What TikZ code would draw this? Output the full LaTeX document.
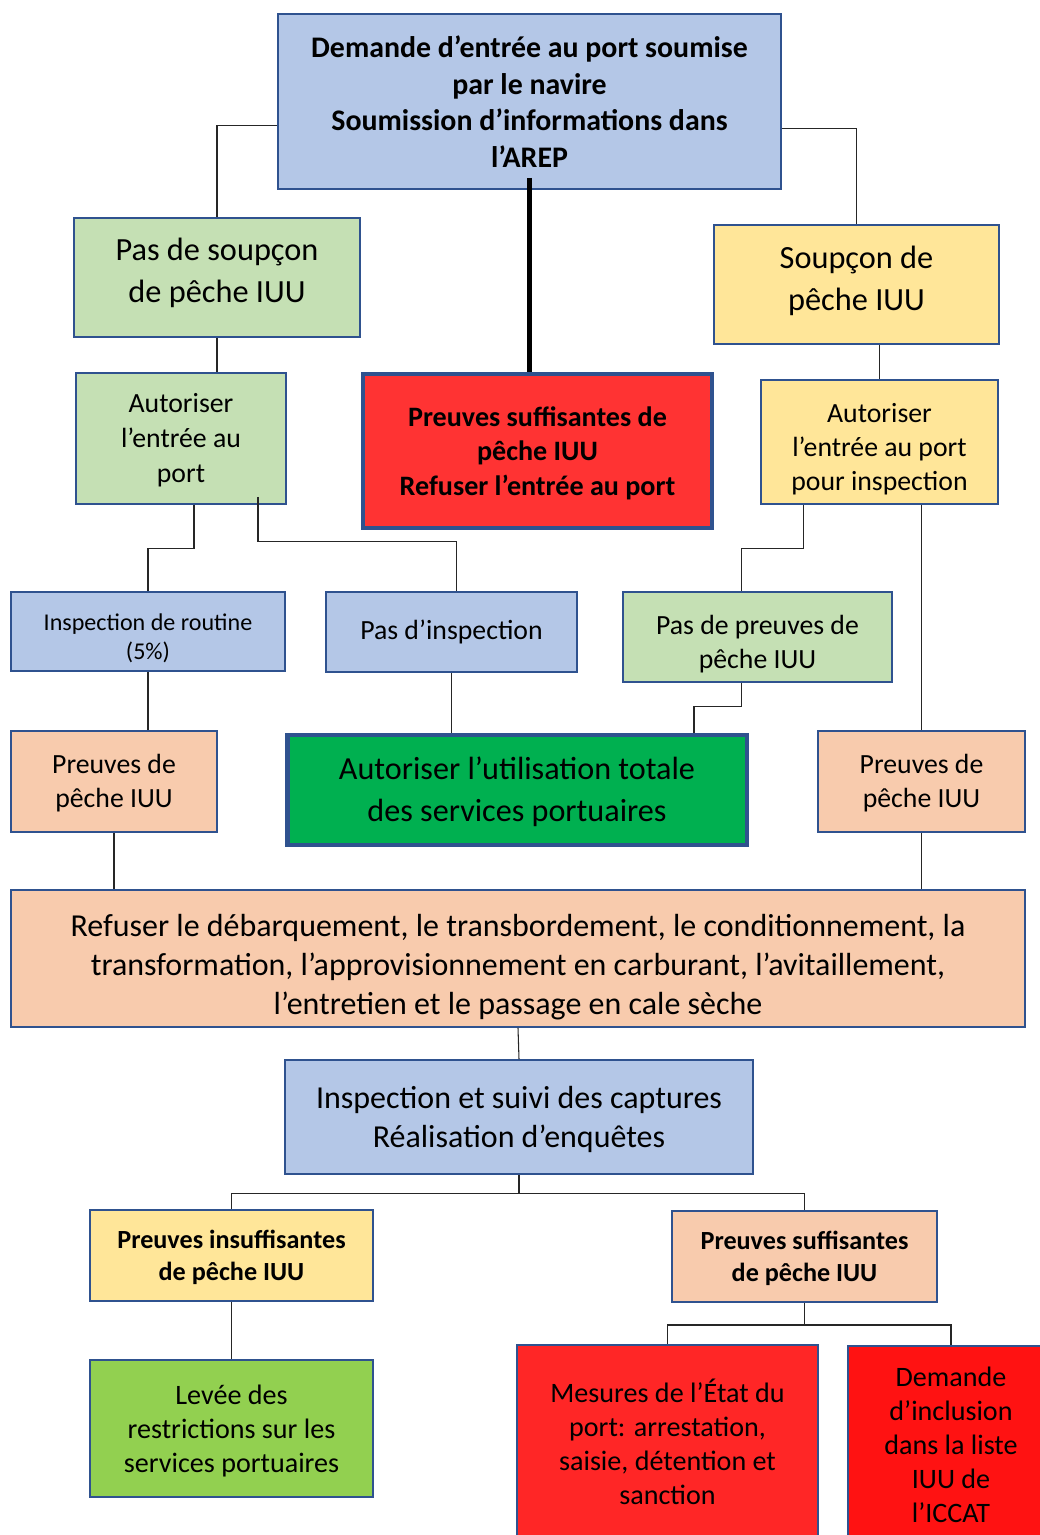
\documentclass[tikz,border=0pt]{standalone}
\usepackage{fontspec}
\setmainfont{Carlito}
\usepackage{tikz}
\usetikzlibrary{calc}

\definecolor{edgeblue}{HTML}{2F528F}
\definecolor{paleblue}{HTML}{B4C7E7}
\definecolor{palegreen}{HTML}{C5E0B4}
\definecolor{paleyellow}{HTML}{FFE699}
\definecolor{peach}{HTML}{F8CBAD}
\definecolor{alertred}{HTML}{FF3333}
\definecolor{okgreen}{HTML}{00B050}
\definecolor{limegreen}{HTML}{92D050}
\definecolor{redA}{HTML}{FF2626}
\definecolor{redB}{HTML}{FF1212}

\begin{document}
\begin{tikzpicture}[x=0.02cm, y=-0.02cm,
    box/.style={draw=edgeblue, line width=1.1pt, align=center, inner sep=0pt},
    heavy/.style={box, line width=2.8pt},
    link/.style={draw=black!85, line width=0.6pt},
    fs/.style 2 args={font=\fontsize{#1}{#2}\selectfont}]
    \useasboundingbox (0,0) rectangle (1040,1535);
    \clip (0,0) rectangle (1040,1535);

    % first row
    \node[box, fill=paleblue, minimum width=10.06cm, minimum height=3.5cm,
        font=\bfseries\fontsize{17}{20.9}\selectfont] (top) at (529.5,101.5)
        {Demande d’entrée au port soumise\\par le navire\\Soumission d’informations dans\\l’AREP};

    \node[box, fill=palegreen, minimum width=5.72cm, minimum height=2.38cm,
        fs={18.4}{24}, text depth=8.5pt] (nosusp) at (217,277.5) {Pas de soupçon\\de pêche IUU};
    \node[box, fill=paleyellow, minimum width=5.7cm, minimum height=2.38cm,
        fs={18.4}{24}, text depth=7.4pt] (susp) at (856.5,284.5) {Soupçon de\\pêche IUU};

    \node[box, fill=palegreen, minimum width=4.2cm, minimum height=2.62cm,
        fs={15.8}{19.8}, text depth=0.6pt] (authL) at (181,438.5) {Autoriser\\l’entrée au\\port};
    \node[heavy, fill=alertred, minimum width=6.98cm, minimum height=3.08cm,
        font=\bfseries\fontsize{16}{19.5}\selectfont, text depth=0pt] (refuse) at (537.5,451)
        {Preuves suffisantes de\\pêche IUU\\Refuser l’entrée au port};
    \node[box, fill=paleyellow, minimum width=4.74cm, minimum height=2.48cm,
        fs={15.8}{19.5}, text depth=0pt, text height=55.5pt] (authR) at (879.5,442)
        {Autoriser\\l’entrée au port\\pour inspection};

    \node[box, fill=paleblue, minimum width=5.48cm, minimum height=1.58cm,
        fs={13.7}{16.5}, text depth=0pt, text height=31.4pt] (routine) at (148,631.5)
        {Inspection de routine\\(5\%)};
    \node[box, fill=paleblue, minimum width=5.02cm, minimum height=1.6cm,
        fs={15.8}{19}] (noinsp) at (451.5,632) {Pas d’inspection};
    \node[box, fill=palegreen, minimum width=5.38cm, minimum height=1.8cm,
        fs={15.8}{19}, text depth=0pt, text height=35.5pt] (noproof) at (757.5,637)
        {Pas de preuves de\\pêche IUU};

    \node[box, fill=peach, minimum width=4.12cm, minimum height=2.02cm,
        fs={15.8}{19}, text depth=0.6pt] (proofL) at (114,781.5) {Preuves de\\pêche IUU};
    \node[heavy, fill=okgreen, minimum width=9.2cm, minimum height=2.2cm,
        fs={18.3}{24}, text depth=1pt] (fulluse) at (517,790) {Autoriser l’utilisation totale\\des services portuaires};
    \node[box, fill=peach, minimum width=4.14cm, minimum height=2.02cm,
        fs={15.8}{19}, text depth=0.6pt] (proofR) at (921.5,781.5) {Preuves de\\pêche IUU};

    \node[box, fill=peach, minimum width=20.28cm, minimum height=2.74cm,
        fs={18.2}{22.2}, text depth=0pt, text height=63.7pt] (deny) at (518,958.5)
        {Refuser le débarquement, le transbordement, le conditionnement, la\\transformation, l’approvisionnement en carburant, l’avitaillement,\\l’entretien et le passage en cale sèche};
    \node[box, fill=paleblue, minimum width=9.36cm, minimum height=2.28cm,
        fs={18.2}{22.2}, text depth=0pt] (inspect) at (519,1117) {Inspection et suivi des captures\\Réalisation d’enquêtes};

    \node[box, fill=paleyellow, minimum width=5.66cm, minimum height=1.82cm,
        font=\bfseries\fontsize{14.9}{18.2}\selectfont, text depth=0pt] (insuff) at (231.5,1255.5)
        {Preuves insuffisantes\\de pêche IUU};
    \node[box, fill=peach, minimum width=5.3cm, minimum height=1.82cm,
        font=\bfseries\fontsize{14.9}{18.2}\selectfont, text depth=0pt] (suff) at (804.5,1256.5)
        {Preuves suffisantes\\de pêche IUU};

    \node[box, fill=limegreen, minimum width=5.66cm, minimum height=2.74cm,
        fs={16}{19.4}, text depth=0pt] (lift) at (231.5,1428.5) {Levée des\\restrictions sur les\\services portuaires};
    \node[box, fill=redA, minimum width=6.02cm, minimum height=3.88cm,
        fs={16}{19.4}] (measures) at (667.5,1442)
        {Mesures de l’État du\\port: arrestation,\\saisie, détention et\\sanction};
    \node[box, fill=redB, minimum width=4.12cm, minimum height=3.96cm,
        fs={16}{19.4}] (listing) at (951,1445)
        {Demande\\d’inclusion\\dans la liste\\IUU de\\l’ICCAT};

    % connectors
    \draw[link] ($(top.west)+(0,24)$) -| (nosusp.north);
    \draw[link] ($(top.east)+(0,27)$) -| (susp.north);
    \draw[line width=2.4pt] ($(top.south)+(0,-12)$) -- (top.south |- refuse.north);
    \draw[link] (nosusp.south) -- (nosusp.south |- authL.north);
    \draw[link] (authR.north |- susp.south) -- (authR.north);
    \draw[link] ($(authL.south)+(13,0)$) -- ++(0,44) -| (routine.north);
    \draw[link] ($(authL.south)+(77,-8)$) -- ++(0,45) -| ($(noinsp.north)+(5,0)$);
    \draw[link] ($(authR.south)+(-76,0)$) -- ++(0,44) -| ($(noproof.north)+(-16,0)$);
    \draw[link] (proofR.north |- authR.south) -- (proofR.north);
    \draw[link] (routine.south) -- (routine.south |- proofL.north);
    \draw[link] (noinsp.south) -- (noinsp.south |- fulluse.north);
    \draw[link] ($(noproof.south)+(-16,0)$) -- ++(0,24) -| ($(fulluse.north)+(177,0)$);
    \draw[link] (proofL.south) -- (proofL.south |- deny.north);
    \draw[link] (proofR.south) -- (proofR.south |- deny.north);
    \draw[link] (deny.south) -- (inspect.north);
    \draw[link] (inspect.south) -- ++(0,19) coordinate (fork) -| (insuff.north);
    \draw[link] (fork) -| (suff.north);
    \draw[link] (insuff.south) -- (lift.north);
    \draw[link] (suff.south) -- ++(0,22) coordinate (split) -| (measures.north);
    \draw[link] (split) -| (listing.north);
\end{tikzpicture}
\end{document}
